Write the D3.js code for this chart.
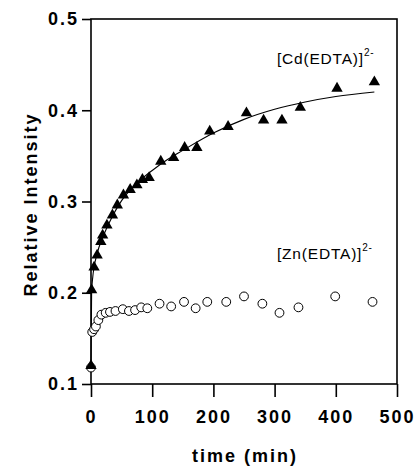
<!DOCTYPE html>
<html><head><meta charset="utf-8">
<script src="https://cdn.jsdelivr.net/npm/d3@7"></script>
<style>
html,body{margin:0;padding:0;background:#fff;}
svg{display:block;}
text{font-family:"Liberation Sans",Arial,sans-serif;fill:#000;}
</style></head>
<body>
<svg id="c" width="416" height="468"></svg>
<script>
// Data
const cdTime = [0, 1, 5, 10, 16, 19, 26, 35, 43, 53, 64, 75, 84, 95, 114, 135, 153, 173, 194, 224, 254, 282, 312, 342, 402, 463];
const cdValue = [0.120, 0.203, 0.228, 0.241, 0.256, 0.263, 0.274, 0.285, 0.296, 0.307, 0.313, 0.318, 0.324, 0.326, 0.344, 0.348, 0.359, 0.359, 0.377, 0.382, 0.397, 0.389, 0.389, 0.403, 0.424, 0.431];
const znTime = [0, 2, 5, 8, 12, 17, 24, 31, 40, 52, 62, 72, 82, 92, 112, 131, 152, 171, 190, 221, 250, 280, 308, 339, 399, 460];
const znValue = [0.118, 0.157, 0.160, 0.163, 0.170, 0.176, 0.178, 0.179, 0.180, 0.182, 0.180, 0.181, 0.184, 0.183, 0.188, 0.185, 0.190, 0.183, 0.190, 0.190, 0.196, 0.188, 0.178, 0.184, 0.196, 0.190];
const fitTime = [0, 1, 3, 5, 10, 20, 30, 40, 50, 75, 100, 125, 150, 200, 250, 300, 350, 400, 463];
const fitValue = [0.120, 0.200, 0.218, 0.228, 0.243, 0.262, 0.277, 0.290, 0.301, 0.320, 0.334, 0.346, 0.356, 0.375, 0.390, 0.401, 0.409, 0.415, 0.420];
const xTicks = [0, 100, 200, 300, 400, 500];
const yTicks = [0.1, 0.2, 0.3, 0.4, 0.5];
const yTickLabels = ["0.1", "0.2", "0.3", "0.4", "0.5"];

const svg = d3.select("#c");
const x = d3.scaleLinear().domain([0, 500]).range([91, 397]);
const y = d3.scaleLinear().domain([0.1, 0.5]).range([384, 19]);

// frame
svg.append("rect").attr("x", x(0)).attr("y", y(0.5))
  .attr("width", x(500) - x(0)).attr("height", y(0.1) - y(0.5))
  .attr("fill", "none").attr("stroke", "#000").attr("stroke-width", 1.6);

// x axis
const xAxis = d3.axisBottom(x).tickValues(xTicks).tickSize(13).tickPadding(13).tickFormat(d3.format("d"));
const gx = svg.append("g").attr("transform", `translate(0,${y(0.1)})`).call(xAxis);
gx.select(".domain").remove();
gx.selectAll("line").attr("stroke", "#000").attr("stroke-width", 1.6);
gx.selectAll("text").attr("font-size", 18).attr("font-weight", "bold")
  .style("letter-spacing", "2px").style("font-family", "'Liberation Sans',Arial,sans-serif");

// y axis
const yAxis = d3.axisLeft(y).tickValues(yTicks).tickSize(9).tickPadding(3)
  .tickFormat((d, i) => yTickLabels[i]);
const gy = svg.append("g").attr("transform", `translate(${x(0)},0)`).call(yAxis);
gy.select(".domain").remove();
gy.selectAll("line").attr("stroke", "#000").attr("stroke-width", 1.6);
gy.selectAll("text").attr("font-size", 18).attr("font-weight", "bold")
  .style("letter-spacing", "2px").style("font-family", "'Liberation Sans',Arial,sans-serif");

// titles
svg.append("text").attr("x", (x(0) + x(500)) / 2 + 1).attr("y", 462)
  .attr("text-anchor", "middle").attr("font-size", 18).attr("font-weight", "bold")
  .style("letter-spacing", "2px").text("time (min)");
svg.append("text").attr("transform", `translate(37,${(y(0.1) + y(0.5)) / 2 + 3}) rotate(-90)`)
  .attr("text-anchor", "middle").attr("font-size", 18).attr("font-weight", "bold")
  .style("letter-spacing", "2px").text("Relative Intensity");

// fit line
const line = d3.line().x((d, i) => x(fitTime[i])).y((d, i) => y(fitValue[i])).curve(d3.curveMonotoneX);
svg.append("path").datum(fitValue).attr("d", line)
  .attr("fill", "none").attr("stroke", "#000").attr("stroke-width", 1.1);

// Zn circles
svg.append("g").selectAll("circle").data(znValue).join("circle")
  .attr("cx", (d, i) => x(znTime[i])).attr("cy", d => y(d)).attr("r", 4.4)
  .attr("fill", "#fff").attr("stroke", "#000").attr("stroke-width", 1);

// Cd triangles
const tri = d3.symbol().type(d3.symbolTriangle).size(56);
svg.append("g").selectAll("path").data(cdValue).join("path")
  .attr("transform", (d, i) => `translate(${x(cdTime[i])},${y(d)})`)
  .attr("d", tri).attr("fill", "#000");

// labels
const cd = svg.append("text").attr("x", 277).attr("y", 64).attr("font-size", 15.5).style("letter-spacing", "0.8px");
cd.append("tspan").text("[Cd(EDTA)]");
cd.append("tspan").attr("dy", -8).attr("font-size", 10).text("2-");
const zn = svg.append("text").attr("x", 277).attr("y", 259).attr("font-size", 15.5).style("letter-spacing", "0.8px");
zn.append("tspan").text("[Zn(EDTA)]");
zn.append("tspan").attr("dy", -8).attr("font-size", 10).text("2-");
</script>
</body></html>
